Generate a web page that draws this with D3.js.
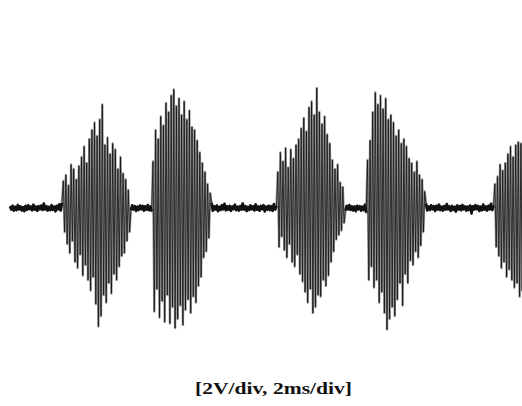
<!DOCTYPE html>
<html>
<head>
<meta charset="utf-8">
<script src="https://cdn.jsdelivr.net/npm/d3@7"></script>
<style>
  html, body { margin: 0; padding: 0; background: #fff; }
  svg { display: block; }
</style>
</head>
<body>
<svg id="chart" width="522" height="406"></svg>
<script>
// Sample interval of the captured trace, in milliseconds
const sampleStepMs = 0.05;

// Quiet stretches of the trace (volts)
const quiet1 = [0.12,-0.10,0.15,-0.18,0.08,-0.14,0.20,-0.09,0.11,-0.16,0.06,-0.21,0.14,-0.12,0.18,-0.07,0.10,-0.15,0.22,-0.11,0.09,-0.19,0.13,-0.08,0.16,-0.13,0.30,-0.10,0.12,-0.17,0.07,-0.14,0.19,-0.12,0.10,-0.22,0.15,-0.09,0.25,-0.16,0.33];
const quiet2 = [-0.14,0.18,-0.10,0.12,-0.20,0.09,-0.13,0.16,-0.08,0.14,-0.18,0.11,-0.12,0.20,-0.15,0.10,-0.22];
const quiet3 = [0.35,-0.18,0.12,-0.10,0.16,-0.21,0.08,-0.13,0.19,-0.09,0.28,-0.15,0.11,-0.12,0.14,-0.19,0.10,-0.08,0.22,-0.14,0.09,-0.17,0.13,-0.11,0.30,-0.10,0.12,-0.20,0.08,-0.13,0.17,-0.09,0.11,-0.16,0.24,-0.12,0.10,-0.18,0.14,-0.08,0.19,-0.23,0.09,-0.11,0.15,-0.14,0.12,-0.19,0.26,-0.10,0.13];
const quiet4 = [-0.18,0.14,-0.09,0.20,-0.13,0.11,-0.16,0.10,-0.21,0.15,-0.08,0.12,-0.17,0.09,-0.14,0.22,-0.30];
const quiet5 = [0.30,-0.16,0.10,-0.13,0.18,-0.08,0.12,-0.20,0.15,-0.10,0.22,-0.14,0.09,-0.17,0.13,-0.11,0.26,-0.09,0.11,-0.19,0.14,-0.12,0.08,-0.24,0.17,-0.10,0.13,-0.15,0.20,-0.09,0.11,-0.18,0.10,-0.13,0.16,-0.36,0.12,-0.11,0.19,-0.08,0.14,-0.20,0.09,-0.15,0.23,-0.12,0.10,-0.17,0.15,-0.09,0.28,-0.14,0.18];

// Burst stretches of the trace (volts)
const burst1 = [1.8,-1.6,2.2,-2.4,1.5,-3.0,2.9,-2.2,2.6,-3.6,1.9,-4.0,2.8,-3.1,3.4,-4.5,4.1,-3.8,3.0,-4.8,4.6,-5.5,5.2,-4.6,5.7,-6.4,4.8,-7.9,5.9,-7.2,6.9,-5.8,4.2,-6.3,4.7,-5.0,3.6,-5.7,4.3,-4.4,3.9,-4.8,2.6,-3.9,3.4,-3.2,2.3,-3.0,1.9,-2.2,1.2,-1.6];
const burst2 = [3.1,-6.9,5.2,-5.4,4.6,-7.3,6.1,-6.2,5.5,-7.6,7.0,-5.8,6.4,-7.7,7.5,-6.6,7.9,-8.0,6.8,-7.4,7.3,-6.5,6.2,-7.8,7.1,-6.8,5.9,-6.1,6.5,-7.0,5.4,-5.9,5.2,-6.3,4.5,-5.2,3.7,-4.6,3.0,-3.3,2.4,-2.9,1.6,-2.0,1.0];
const burst3 = [2.4,-2.6,3.7,-1.9,3.1,-2.8,4.0,-3.3,2.7,-2.4,3.9,-3.6,3.3,-3.9,4.2,-3.1,4.6,-4.4,5.3,-4.9,6.0,-5.6,5.1,-6.3,6.7,-5.4,7.1,-7.0,6.2,-6.6,8.0,-5.8,6.4,-5.9,5.6,-4.8,6.1,-5.2,4.9,-4.5,4.3,-3.6,3.2,-2.9,2.6,-2.1,2.9,-1.8,1.7,-1.5,1.4,-1.0];
const burst4 = [3.2,-4.8,4.5,-3.9,6.4,-5.3,7.7,-4.8,6.9,-6.3,7.5,-5.6,6.6,-7.0,7.3,-8.1,5.9,-7.4,6.2,-6.6,5.7,-7.2,4.8,-6.1,5.2,-5.0,4.3,-6.5,4.6,-4.4,4.1,-5.0,3.3,-3.5,3.0,-3.8,2.4,-2.9,3.1,-3.3,2.2,-2.5,1.9,-1.6,1.1];
const burst5 = [1.6,-2.6,2.1,-3.2,2.9,-4.0,2.5,-3.6,3.0,-4.6,3.6,-4.1,4.1,-4.8,3.4,-5.3,4.2,-5.0,4.4,-5.9,4.3,-5.5,4.0,-5.2];

// Scope settings shown in the caption
const voltsPerDiv = 2;
const msPerDiv = 2;
const caption = `[${voltsPerDiv}V/div, ${msPerDiv}ms/div]`;

// Segments in capture order; each one continues where the previous ended
const segments = [
  { kind: "quiet", values: quiet1 }, { kind: "burst", values: burst1 },
  { kind: "quiet", values: quiet2 }, { kind: "burst", values: burst2 },
  { kind: "quiet", values: quiet3 }, { kind: "burst", values: burst3 },
  { kind: "quiet", values: quiet4 }, { kind: "burst", values: burst4 },
  { kind: "quiet", values: quiet5 }, { kind: "burst", values: burst5 }
];

let offset = 0;
segments.forEach(s => {
  s.points = s.values.map((v, i) => ({ t: (offset + i) * sampleStepMs, v }));
  offset += s.values.length;
});
const trace = segments.flatMap(s => s.points);

const svg = d3.select("#chart");
const width = 522, height = 406;

svg.append("rect").attr("width", width).attr("height", height).attr("fill", "#fff");

// 10 horizontal divisions, 8 vertical divisions
const x = d3.scaleLinear().domain([0, 10 * msPerDiv]).range([10, 530]);
const y = d3.scaleLinear().domain([-4 * voltsPerDiv, 4 * voltsPerDiv]).range([328, 88]);

svg.append("clipPath").attr("id", "screen")
  .append("rect").attr("x", 0).attr("y", 0).attr("width", width).attr("height", height);

const line = d3.line().x(d => x(d.t)).y(d => y(d.v));
const g = svg.append("g").attr("clip-path", "url(#screen)");

// Gray phosphor spread under the trace
g.append("path")
  .datum(trace)
  .attr("d", line)
  .attr("fill", "none")
  .attr("stroke", "#9a9a9a")
  .attr("stroke-width", 2.4)
  .attr("stroke-linejoin", "round");

// Thick dark band where the signal is quiet
g.selectAll("path.quiet")
  .data(segments.filter(s => s.kind === "quiet"))
  .join("path")
  .attr("class", "quiet")
  .attr("d", s => line(s.points))
  .attr("fill", "none")
  .attr("stroke", "#111")
  .attr("stroke-width", 2.6)
  .attr("stroke-linejoin", "round");

// Sharp trace on top
g.append("path")
  .datum(trace)
  .attr("d", line)
  .attr("fill", "none")
  .attr("stroke", "#111")
  .attr("stroke-width", 0.8)
  .attr("stroke-linejoin", "round");

svg.append("text")
  .attr("x", 273.5)
  .attr("y", 394)
  .attr("text-anchor", "middle")
  .attr("font-family", "'Liberation Serif', 'Times New Roman', serif")
  .attr("font-weight", "bold")
  .attr("font-size", 16)
  .attr("textLength", 157)
  .attr("lengthAdjust", "spacingAndGlyphs")
  .attr("fill", "#111")
  .text(caption);
</script>
</body>
</html>
